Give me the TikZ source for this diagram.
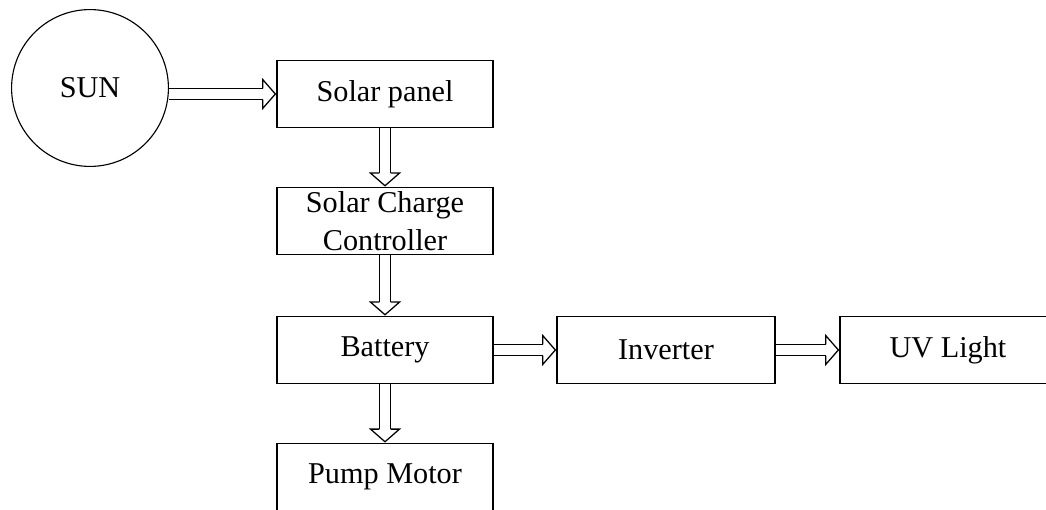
\documentclass[tikz,border=0pt]{standalone}
\usepackage{fontspec}
\setmainfont{Liberation Serif}
\usetikzlibrary{arrows.meta,positioning}

% open block-arrow head for the double shafts
\pgfdeclarearrow{
  name = Hollow,
  setup code = {
    \pgfarrowssettipend{9.6pt}
    \pgfarrowssetlineend{0pt}
    \pgfarrowssetbackend{0pt}
    \pgfarrowssetvisualbackend{0pt}
    \pgfarrowshullpoint{9.6pt}{0pt}
    \pgfarrowsupperhullpoint{0pt}{10.3pt}
  },
  drawing code = {
    \pgfsetlinewidth{0.9pt}
    \pgfsetmiterjoin
    \pgfpathmoveto{\pgfqpoint{0pt}{4pt}}
    \pgfpathlineto{\pgfqpoint{0pt}{10.3pt}}
    \pgfpathlineto{\pgfqpoint{9pt}{0pt}}
    \pgfpathlineto{\pgfqpoint{0pt}{-10.3pt}}
    \pgfpathlineto{\pgfqpoint{0pt}{-4pt}}
    \pgfusepathqstroke
  }
}

\begin{document}
\begin{tikzpicture}[x=0.025cm,y=-0.025cm,
  blockbox/.style={draw,line width=1.1pt,minimum width=5.4cm,minimum height=1.68cm,
    align=center,inner sep=0pt,font=\fontsize{21.5}{27}\selectfont},
  sunbox/.style={draw,circle,line width=0.8pt,minimum size=3.92cm,inner sep=0pt,
    font=\fontsize{21.5}{27}\selectfont},
  flowarrow/.style={double,double distance=7.1pt,line width=0.9pt,-{Hollow}}
]
  \useasboundingbox (0,0) rectangle (1046,510);
  % source
  \node[sunbox] (sun) at (90,88) {SUN};
  % main chain
  \node[blockbox] (panel) at (385,94) {Solar panel};
  \node[blockbox] (scc) at (385,221) {Solar Charge\\Controller};
  \node[blockbox] (battery) at (385,350) {Battery};
  \node[blockbox] (pump) at (385,477) {Pump Motor};
  % output side
  \node[blockbox,minimum width=5.45cm] (inverter) at (666,350) {Inverter};
  \node[blockbox] (uv) at (948,350) {UV Light};
  % arrows
  \draw[flowarrow] (sun.east |- panel.west) -- (panel.west);
  \draw[flowarrow] (panel.south) -- (scc.north);
  \draw[flowarrow] (scc.south) -- (battery.north);
  \draw[flowarrow] (battery.south) -- (pump.north);
  \draw[flowarrow] (battery.east) -- (inverter.west);
  \draw[flowarrow] (inverter.east) -- (uv.west);
\end{tikzpicture}
\end{document}
